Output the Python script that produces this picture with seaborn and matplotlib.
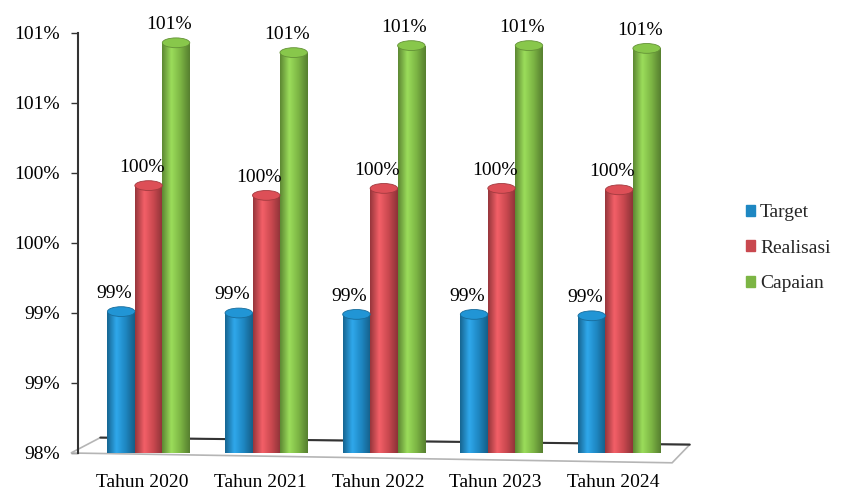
import numpy as np
import pandas as pd
import seaborn as sns
import matplotlib.pyplot as plt
import matplotlib.transforms as mtransforms
from matplotlib.colors import LinearSegmentedColormap, to_rgb
from matplotlib.patches import Ellipse, Polygon

## Data
years = ['Tahun 2020', 'Tahun 2021', 'Tahun 2022', 'Tahun 2023', 'Tahun 2024']
target = [99.01, 99.00, 98.99, 98.99, 98.98]
realisasi = [99.91, 99.84, 99.89, 99.89, 99.88]
capaian = [100.93, 100.86, 100.91, 100.91, 100.89]
series = ['Target', 'Realisasi', 'Capaian']
colors = ['#1e87c2', '#c9484f', '#7cb544']
yticks = [98.0, 98.5, 99.0, 99.5, 100.0, 100.5, 101.0]

df = pd.DataFrame({'year': years * 3,
                   'series': [s for s in series for _ in years],
                   'value': target + realisasi + capaian})

sns.set_style('white')
plt.rcParams['font.family'] = ['Liberation Serif', 'DejaVu Serif']

fig = plt.figure(figsize=(8.42, 4.93), dpi=100)
ax = fig.add_axes([78 / 842, 1 - 453 / 493, 600 / 842, 420 / 493])

sns.barplot(data=df, x='year', y='value', hue='series', order=years,
            hue_order=series, palette=colors, width=0.7, ax=ax,
            errorbar=None, linewidth=0, zorder=3, legend=True)

ax.set_xlim(-0.6, 4.5)
ax.set_ylim(98.0, 101.0)

# 3D-ish floor under the cylinders
floor = Polygon([(-0.66, 98.0), (4.45, 97.93), (4.6, 98.06), (-0.41, 98.11)],
                closed=True, facecolor='white', edgecolor='#b5b5b5',
                linewidth=1.2, clip_on=False, zorder=1)
ax.add_patch(floor)
ax.plot([-0.41, 4.6], [98.11, 98.06], color='#333333', lw=1.5,
        clip_on=False, zorder=1.5)

# cylinder shading + caps
for cont, col in zip(ax.containers, colors):
    base = np.array(to_rgb(col))
    cmap = LinearSegmentedColormap.from_list(
        'cyl', [base * 0.75, np.minimum(base * 1.15 + 0.05, 1), base, base * 0.7])
    grad = np.linspace(0, 1, 64).reshape(1, -1)
    for bar in cont:
        x0, w, h = bar.get_x(), bar.get_width(), bar.get_height()
        im = ax.imshow(grad, cmap=cmap, aspect='auto', extent=(x0, x0 + w, 98.0, h),
                       zorder=3, interpolation='bicubic')
        im.set_clip_path(bar)
        cap = Ellipse((x0 + w / 2, h), w, 0.07, facecolor=np.minimum(base * 1.1, 1),
                      edgecolor=base * 0.8, linewidth=0.6, zorder=4)
        ax.add_patch(cap)
        ax.annotate(f'{int(h + 0.5)}%', (x0 + w / 2, h), xytext=(-5, 7),
                    textcoords='offset points', ha='center', va='bottom',
                    fontsize=14, color='black', zorder=5)

ax.set_xlim(-0.6, 4.5)
ax.set_ylim(98.0, 101.0)
ax.set_yticks(yticks)
ax.set_yticklabels([f'{int(v + 0.5)}%' for v in yticks], fontsize=14, color='black')
ax.tick_params(axis='y', direction='out', length=5, width=1, pad=8, left=True, color='#333333')
ax.tick_params(axis='x', length=0, pad=15, labelsize=14, labelcolor='black')
shift = mtransforms.ScaledTranslation(-6 / 100, 0, fig.dpi_scale_trans)
for lab in ax.get_xticklabels():
    lab.set_transform(lab.get_transform() + shift)
ax.set_xlabel('')
ax.set_ylabel('')
for s in ['top', 'right', 'bottom']:
    ax.spines[s].set_visible(False)
ax.spines['left'].set_color('#333333')
ax.spines['left'].set_linewidth(1.5)

ax.legend_.remove()
handles = [plt.Rectangle((0, 0), 1, 1, color=c) for c in colors]
fig.legend(handles, series, loc='center left', bbox_to_anchor=(728 / 842, 1 - 248 / 493),
           frameon=False, fontsize=14, handlelength=0.5, handleheight=0.5,
           handletextpad=0.25, labelspacing=0.95)

fig.savefig('out.png', dpi=100)
